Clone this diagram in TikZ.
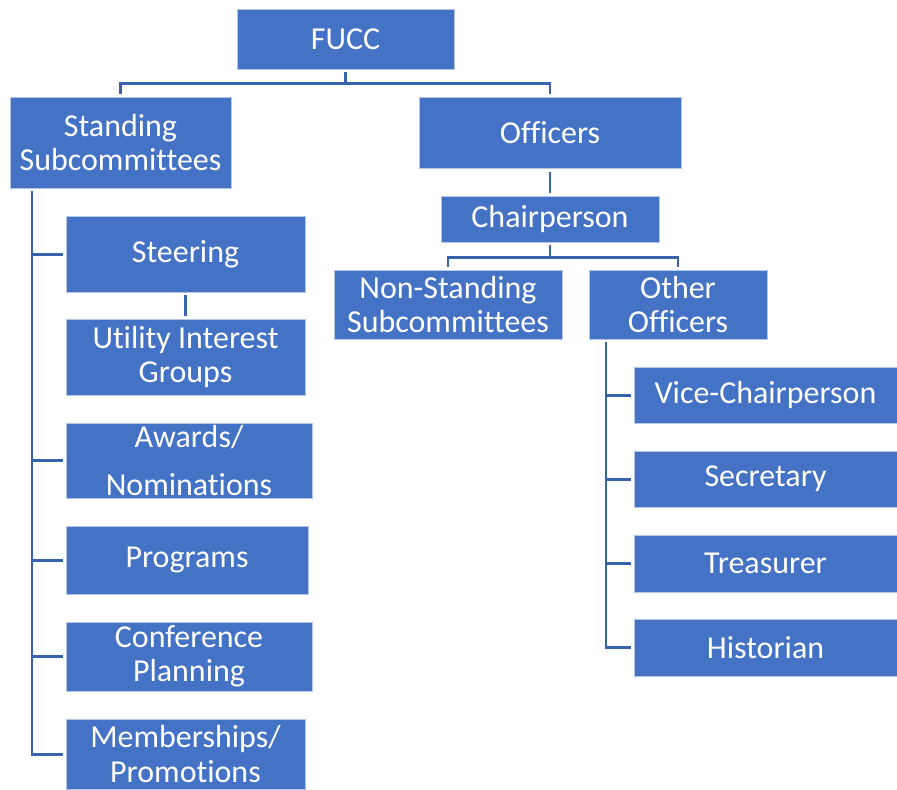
\documentclass[tikz,border=0pt]{standalone}
\usepackage{fontspec}
\setmainfont{Carlito}[Ligatures=NoCommon]
\usetikzlibrary{positioning,calc}
\definecolor{boxblue}{HTML}{4472C4}
\definecolor{linkblue}{HTML}{3A63AD}

\begin{document}
\begin{tikzpicture}[x=0.02cm, y=-0.02cm,
    box/.style={fill=boxblue, draw=white!60!boxblue, line width=0.4pt, inner sep=0pt,
        text=white, align=center, font=\fontsize{18.2}{19.4}\selectfont},
    wh/.style 2 args={minimum width=#1*0.02cm, minimum height=#2*0.02cm},
    link/.style={draw=linkblue, line width=1.7pt, shorten <=0.06cm, shorten >=0.06cm}]
    \useasboundingbox (0,0) rectangle (897,789);

    % Top levels
    \node[box, wh={217}{60}] (fucc) at (345.5,39) {FUCC};
    \node[box, wh={221}{91}] (stand) at (120.5,142.5) {Standing\\Subcommittees};
    \node[box, wh={262}{71}] (officers) at (550,132.5) {Officers};
    \node[box, wh={218}{46}] (chair) at (550,219) {Chairperson};
    \node[box, wh={228}{69}] (nonstand) at (448,304.5) {Non-Standing\\Subcommittees};
    \node[box, wh={178}{69}] (other) at (678,304.5) {Other\\Officers};

    % Standing subcommittees
    \node[box, wh={239}{76}] (steer) at (185.5,254) {Steering};
    \node[box, wh={239}{76}] (util) at (185.5,357) {Utility Interest\\Groups};
    \node[box, wh={246}{75}] (awards) at (189,460.5) {Awards/\\[0.28cm]Nominations};
    \node[box, wh={242}{68}] (programs) at (187,560) {Programs};
    \node[box, wh={246}{69}] (conf) at (189,656.5) {Conference\\Planning};
    \node[box, wh={239}{70}] (members) at (185.5,754) {Memberships/\\Promotions};

    % Other officers
    \node[box, wh={263}{56}] (vice) at (765.5,395) {Vice-Chairperson};
    \node[box, wh={263}{56}] (secr) at (765.5,479) {Secretary};
    \node[box, wh={263}{57}] (treas) at (765.5,563.5) {Treasurer};
    \node[box, wh={263}{57}] (hist) at (765.5,647.5) {Historian};

    % Connectors
    \draw[link] (fucc.south) -- ++(0,14) -| (stand.north);
    \draw[link] (fucc.south) -- ++(0,14) -| (officers.north);
    \draw[link, shorten <=0.08cm, shorten >=0.06cm] (officers) -- (chair);
    \draw[link] (chair.south) -- ++(0,15) -| (nonstand.north);
    \draw[link] (chair.south) -- ++(0,15) -| (other.north);
    \draw[link] (steer) -- (util);

    \coordinate (sroot) at (32,188);
    \foreach \n in {steer,awards,programs,conf,members}
        \draw[link] (sroot) |- (\n.west);

    \coordinate (oroot) at (606,339);
    \foreach \n in {vice,secr,treas,hist}
        \draw[link] (oroot) |- (\n.west);
\end{tikzpicture}
\end{document}
